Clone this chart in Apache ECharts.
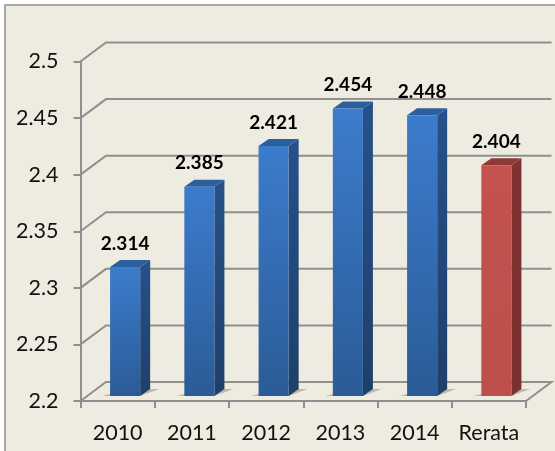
<!DOCTYPE html>
<html><head><meta charset="utf-8">
<style>html,body{margin:0;padding:0;background:#fff}#c{width:555px;height:451px}</style>
<script src="https://cdn.jsdelivr.net/npm/echarts@6/dist/echarts.min.js"></script>
</head><body><div id="c"></div>
<script>
const categories = ['2010','2011','2012','2013','2014','Rerata'];
const values = [2.314,2.385,2.421,2.454,2.448,2.404];
const valueLabels = ['2.314','2.385','2.421','2.454','2.448','2.404'];
const tickValues = [2.2,2.25,2.3,2.35,2.4,2.45,2.5];

const DX=25.5, DY=-19, BAR_DX=7.5, BAR_DY=-5, SIDE_DX=10, SIDE_DY=-7;
const GRID='#8f8f8f';
const chart = echarts.init(document.getElementById('c'),null,{renderer:'canvas'});
const lin=(a,b)=>new echarts.graphic.LinearGradient(0,0,0,1,[{offset:0,color:a},{offset:1,color:b}]);

function wallItem(params,api){
  const v=api.value(0);
  const cs=params.coordSys;
  const y=api.coord([0,v])[1];
  const x0=cs.x, x1=cs.x+cs.width;
  const pts=[[x0,y],[x0+DX,y+DY],[x1+DX,y+DY]];
  if(v===tickValues[0]) pts.push([x1,y]);
  return {type:'polyline',shape:{points:pts},style:{stroke:GRID,fill:null,lineWidth:2},silent:true};
}
function barItem(params,api){
  const i=api.value(0), v=api.value(1);
  const base=api.coord([i,2.2]), top=api.coord([i,v]);
  const w=api.size([1,0])[0]*0.405;
  const l=base[0]-w/2+BAR_DX, r=l+w, yb=base[1]+BAR_DY, yt=top[1]+BAR_DY;
  const red=i===categories.length-1;
  const face=red?lin('#C4524F','#BC4F4B'):lin('#3C7CCC','#2B5B97');
  const side=red?lin('#7F3230','#7A302E'):lin('#27518A','#1E3F69');
  const topc=red?'#8E3A37':'#2C5F9E';
  return {type:'group',children:[
    {type:'polygon',shape:{points:[[l-8,yb],[r,yb],[r+SIDE_DX+9,yb-7],[r+SIDE_DX-3,yb-7],[r,yb-2],[l,yb-2]]},style:{fill:'rgba(120,115,90,0.42)'},silent:true},
    {type:'polygon',shape:{points:[[r,yb],[r+SIDE_DX,yb+SIDE_DY],[r+SIDE_DX,yt+SIDE_DY],[r,yt]]},style:{fill:side}},
    {type:'polygon',shape:{points:[[l,yt],[r,yt],[r+SIDE_DX,yt+SIDE_DY],[l+SIDE_DX,yt+SIDE_DY]]},style:{fill:topc}},
    {type:'rect',shape:{x:l,y:yt,width:w,height:yb-yt},style:{fill:face}},
    {type:'text',style:{x:(l+r)/2,y:yt+SIDE_DY-7,text:valueLabels[i],align:'center',verticalAlign:'bottom',fontFamily:'Lato',fontWeight:'bold',fontSize:19,fill:'#000'}}
  ]};
}
chart.setOption({
  animation:false,
  backgroundColor:'#fff',
  graphic:[{type:'rect',z:-10,shape:{x:5,y:5,width:560,height:460},style:{fill:'#EEECE1',stroke:'#A8A8A8',lineWidth:2}}],
  grid:{left:80.5,right:29,top:61.5,bottom:50},
  xAxis:{type:'category',data:categories,boundaryGap:true,
    axisLine:{lineStyle:{color:GRID,width:2}},
    axisTick:{show:true,alignWithLabel:false,length:7,lineStyle:{color:GRID,width:2}},
    axisLabel:{color:'#111',fontFamily:'Lato',fontSize:21.5,margin:21,interval:0},
    splitLine:{show:false}},
  yAxis:{type:'value',min:2.2,max:2.5,interval:0.05,
    axisLine:{show:true,lineStyle:{color:GRID,width:2}},
    axisTick:{show:true,length:7,lineStyle:{color:GRID,width:2}},
    axisLabel:{color:'#111',fontFamily:'Lato',fontSize:21.5,margin:22,padding:[6,0,0,0],formatter:v=>String(+v.toFixed(2))},
    splitLine:{show:false}},
  series:[
    {type:'custom',coordinateSystem:'cartesian2d',renderItem:wallItem,data:tickValues.map(v=>[v]),encode:{y:0},clip:false,z:1,silent:true},
    {type:'custom',coordinateSystem:'cartesian2d',renderItem:barItem,data:values.map((v,i)=>[i,v]),encode:{x:0,y:1},clip:false,z:3}
  ]
});
</script></body></html>
